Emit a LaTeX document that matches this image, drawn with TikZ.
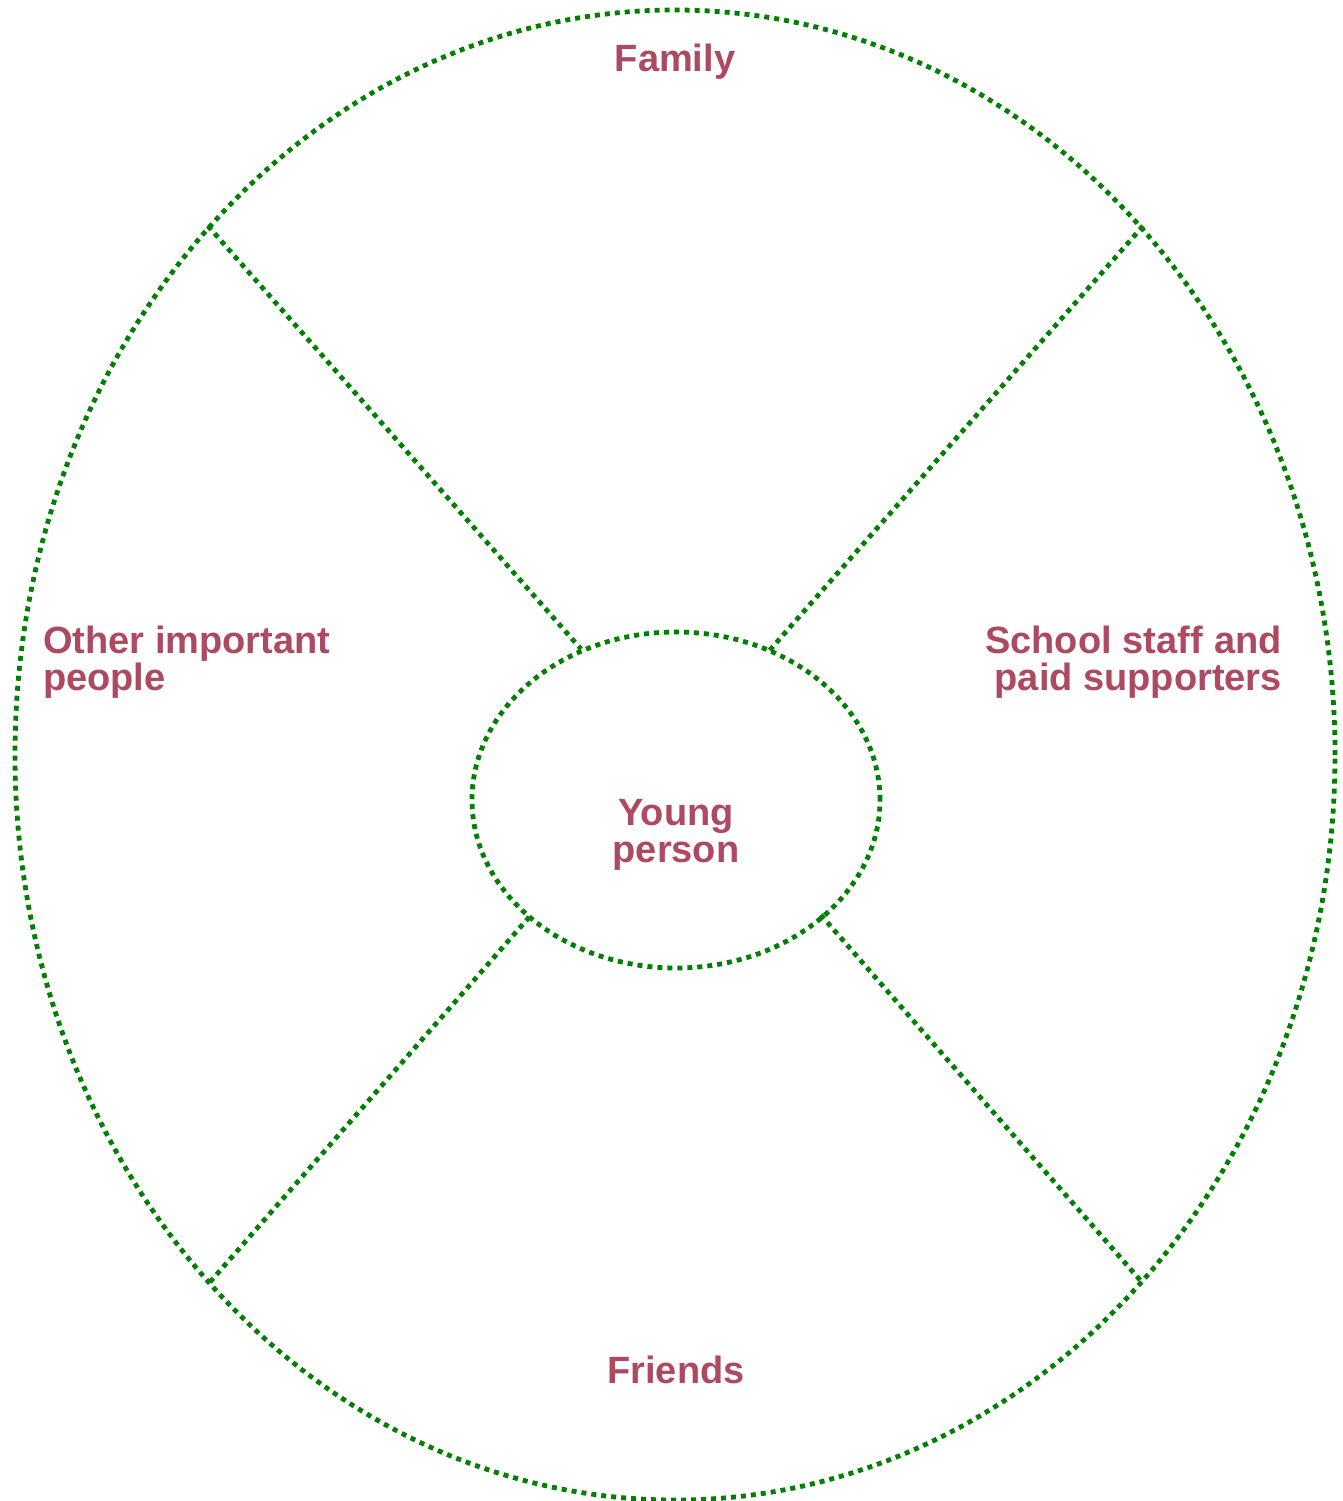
\documentclass[tikz,border=0pt]{standalone}
\usepackage{fontspec}
\usetikzlibrary{shapes.geometric}
\setmainfont{Liberation Sans}
\definecolor{labelred}{HTML}{AD4A61}
\definecolor{dotgreen}{HTML}{007F00}
\tikzset{
  dotline/.style={draw=dotgreen, line width=4.8pt, dash pattern=on 5pt off 5pt, line cap=butt},
  ring/.style={dotline, ellipse, inner sep=0pt, outer sep=0pt},
  lbl/.style={text=labelred, inner sep=0pt, font=\fontsize{38}{37}\selectfont\bfseries}
}
\begin{document}
\begin{tikzpicture}[x=1pt,y=-1pt]
\useasboundingbox (0,0) rectangle (1343,1501);
% outer and inner ellipses
\node[ring, minimum width=1320pt, minimum height=1490pt] (outer) at (675,755) {};
\node[ring, minimum width=408pt, minimum height=336pt] (inner) at (676,800) {};
% spoke endpoints
\coordinate (ulo) at (208,226);
\coordinate (uli) at (581,649);
\coordinate (uro) at (1143,226);
\coordinate (uri) at (769,651);
\coordinate (llo) at (210,1282);
\coordinate (lli) at (531,915);
\coordinate (lro) at (1140,1280);
\coordinate (lri) at (820,914);
\draw[dotline] (ulo) -- (uli);
\draw[dotline] (uro) -- (uri);
\draw[dotline] (llo) -- (lli);
\draw[dotline] (lro) -- (lri);
% labels
\node[lbl, anchor=north] (family) at (675,44) {Family};
\node[lbl, anchor=north west, align=left] (other) at (43,626) {Other important\\people};
\node[lbl, anchor=north east, align=right] (school) at (1282,626) {School staff\hspace{1pt} and\\paid supporters};
\node[lbl, anchor=north, align=center] (young) at (676,799) {Young\\person};
\node[lbl, anchor=north] (friends) at (676,1356) {Friends};
\end{tikzpicture}
\end{document}
